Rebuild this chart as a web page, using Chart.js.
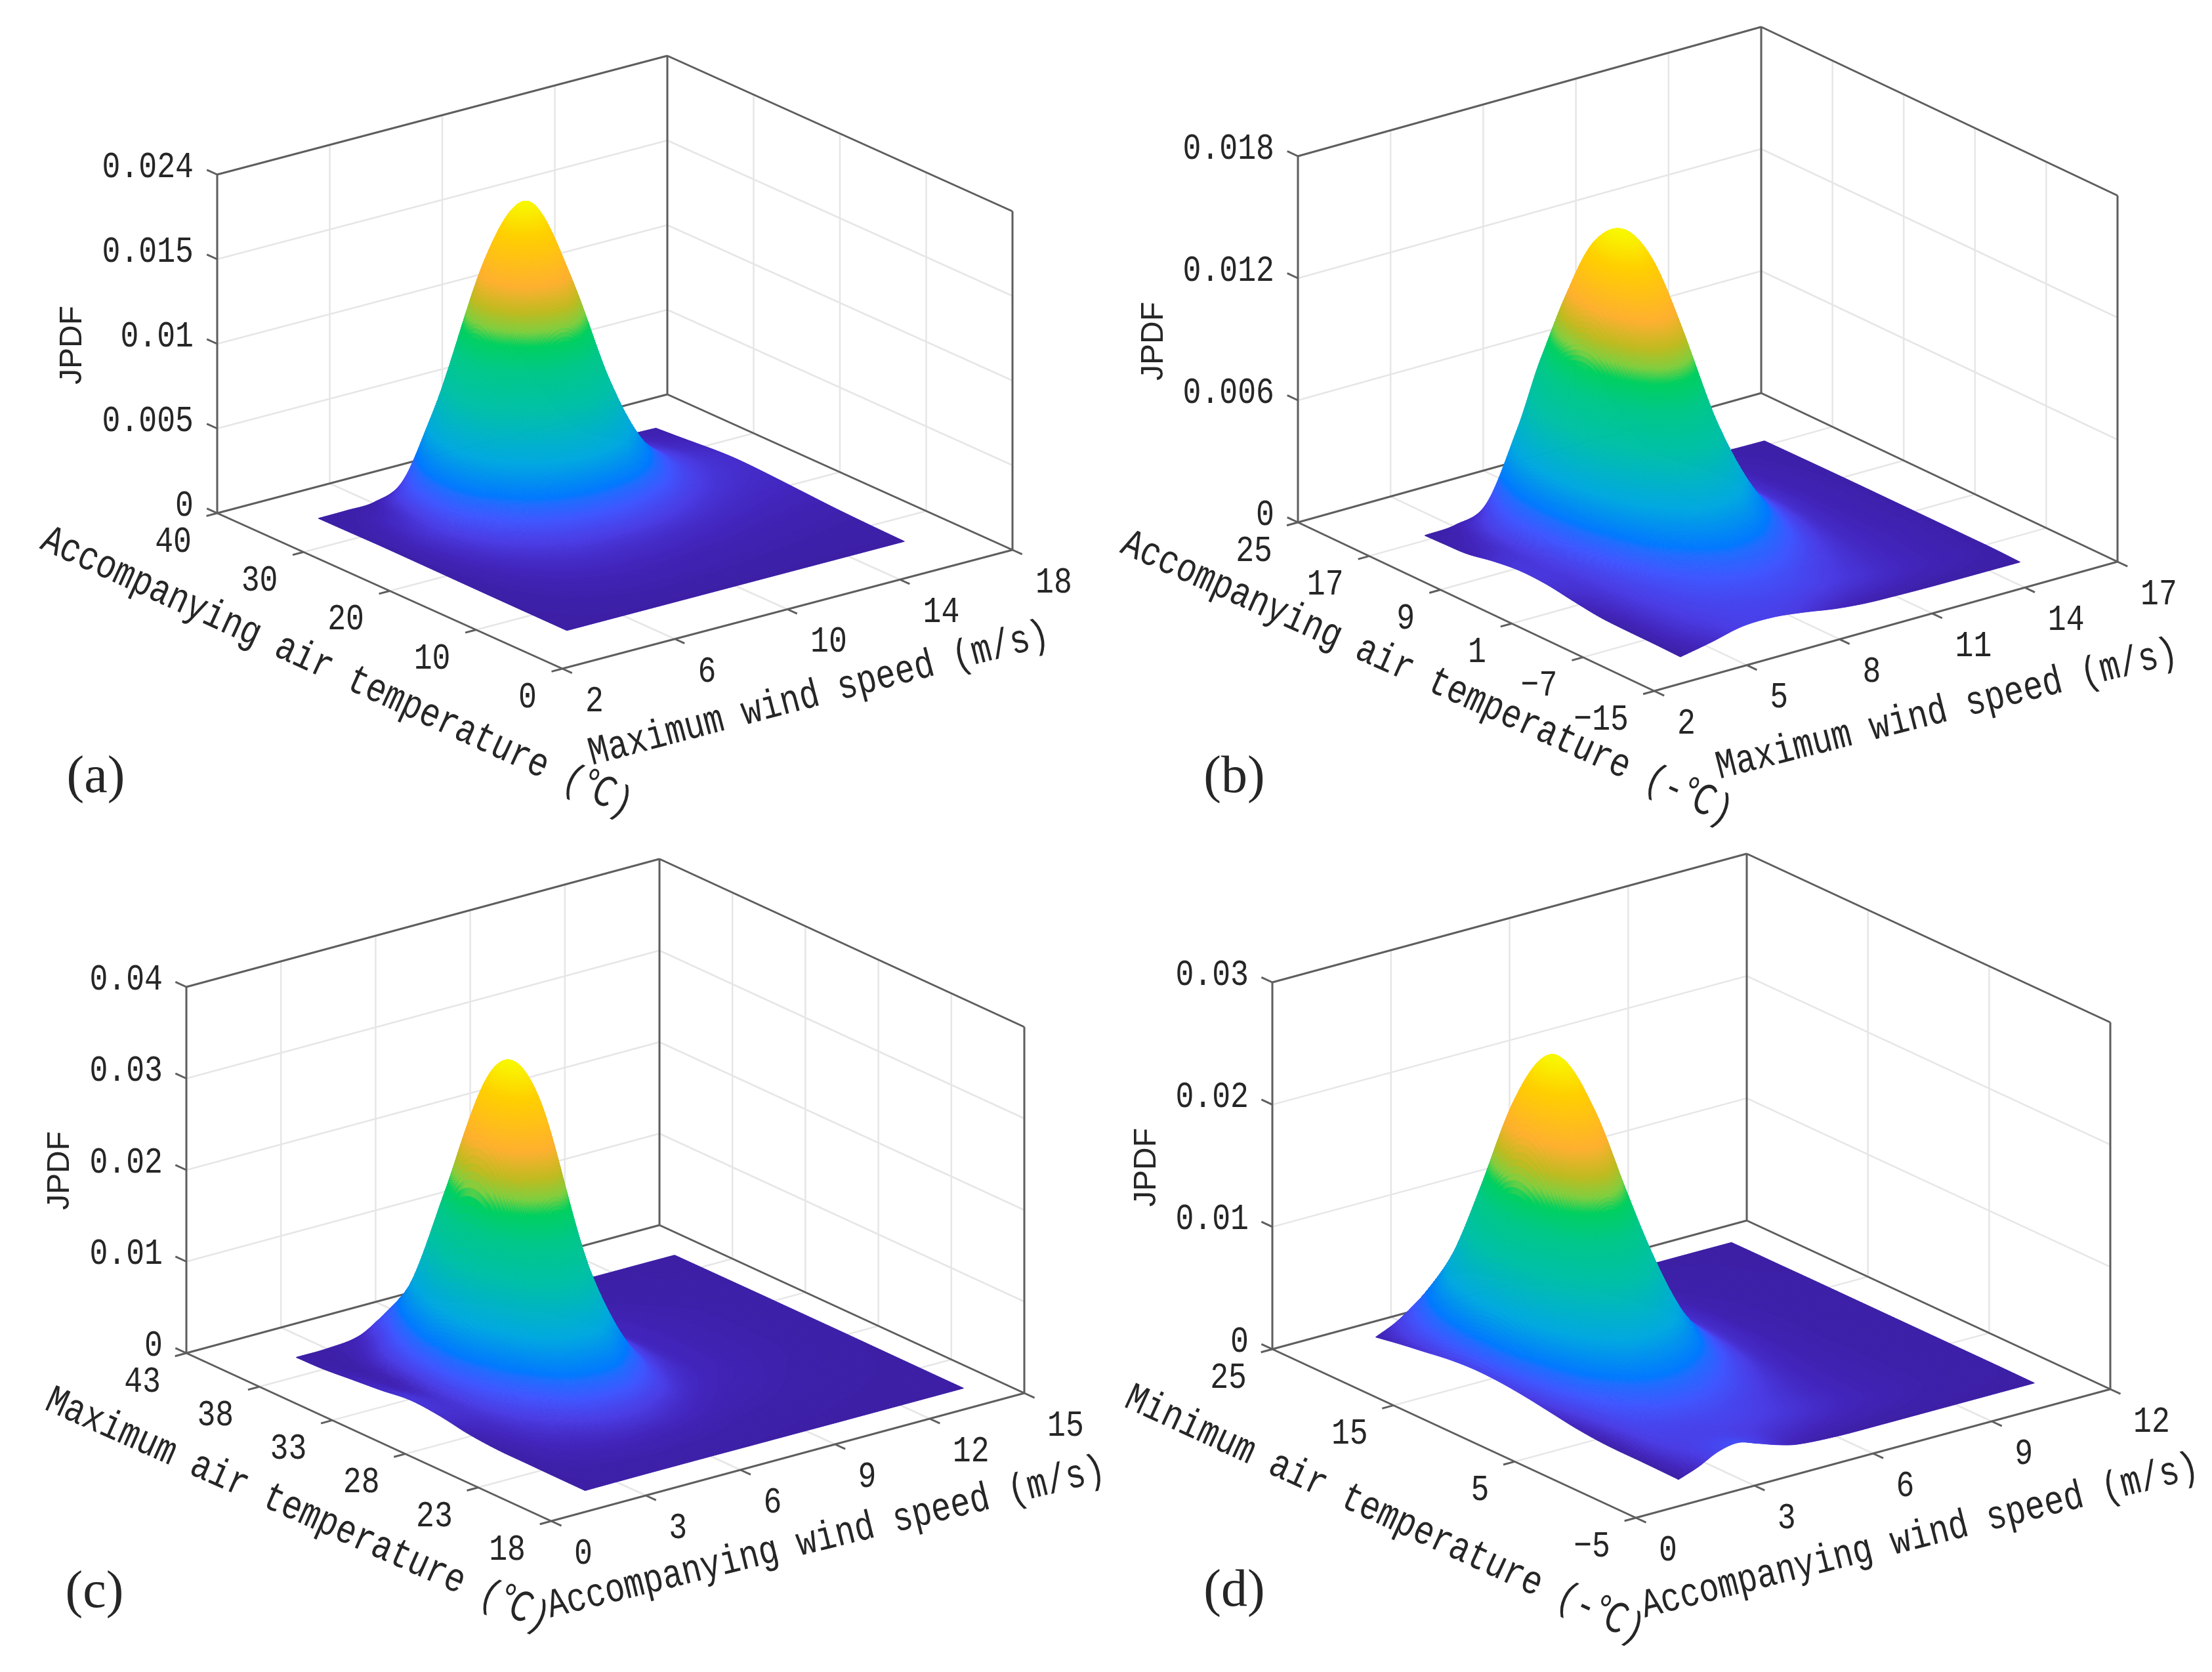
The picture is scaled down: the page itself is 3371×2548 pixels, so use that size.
<!DOCTYPE html>
<html><head><meta charset="utf-8">
<style>html,body{margin:0;padding:0;background:#fff;width:3371px;height:2548px;overflow:hidden}canvas{position:absolute;display:block}</style>
<script src="https://cdn.jsdelivr.net/npm/chart.js@4"></script>
</head><body>
<canvas id="pa"></canvas><canvas id="pb"></canvas><canvas id="pc"></canvas><canvas id="pd"></canvas>
<script>
// ---- Panel (a) data: JPDF in units of 1e-4, rows follow a_temp, columns follow a_wind
const a_wind=[4,5,6,7,8,9,10,11,12,13,14,15,16];
const a_temp=[6,10,14,18,21,24,26,28,30,32,34.8];
const a_jpdf=[
[0,0,0,0,0,0,0,0,0,0,0,0,0],
[.04,.32,.65,.91,1.08,1.08,1.03,.91,.82,.7,.6,.52,.46],
[.09,.81,1.6,2.3,2.75,2.78,2.67,2.35,2.08,1.75,1.5,1.3,1.14],
[.18,1.6,3.3,5.1,6.7,7.5,7.6,6.5,5.1,3.9,3.1,2.6,2.3],
[.28,2.45,5.5,9.7,15.8,21.4,22.7,18.7,12.5,7.5,5,3.85,3.2],
[.36,3.3,8.7,19.9,39.9,61.1,67.3,53.9,32.2,15.7,7.8,4.9,3.9],
[.4,3.75,11,29.9,64.8,103.2,114.6,91.3,52.7,23.8,10,5.35,4],
[.41,3.2,11,36,87.6,139,155,123,71.5,30.7,11.5,5.2,3.5],
[.3,2.5,9,36,95,153.6,172,136.5,78.1,32.5,11.1,4.3,2.65],
[.2,1.5,6,28,83,135,151,120,68.4,28.1,9.2,3.2,1.8],
[.1,.3,1,9,42,78,87.5,69.1,38.3,15.5,4.85,1.5,.75]];
const a_xTicks=[2,6,10,14,18], a_tTicks=[0,10,20,30,40], a_zTicks=[0,.005,.01,.015,.02];
const a_zLabels=["0","0.005","0.01","0.015","0.024"];
// ---- Panel (b)
const b_wind=[4,5,6,7,8,9,10,11,12,13,14,15];
const b_temp=[-11,-8,-5,-2,1,4,7,10,13,15.5,17.7];
const b_jpdf=[
[0,3,6.5,6.8,5,2.5,1,.5,.2,.1,.05,0],
[.3,4.3,7,8.1,8.3,7.1,5.1,3.6,2.3,1.5,.9,.4],
[.4,4.8,8.3,10.8,12.4,10.8,7.4,4.6,2.8,1.7,1,.43],
[.8,5.3,10,16.1,21.9,20,12.7,6.5,3.2,1.9,1.1,.45],
[2.5,5.7,13,27.3,42.7,40.1,24.1,10.4,4,2,1.1,.45],
[4.5,6.3,17.8,45.5,76.7,72.9,42.8,16.8,5.4,2.1,1.1,.45],
[5,7.1,23.4,66.4,115.8,110.6,64.3,24.2,6.9,2.3,1.1,.45],
[3.5,7.1,26.2,78.8,139.9,134,77.5,28.5,7.6,2.2,1,.4],
[1,6,24,74.8,134,128.5,74.1,26.9,7,1.9,.8,.3],
[.5,3.5,17,59.9,107.7,103.4,59.5,21.5,5.5,1.4,.6,.2],
[.2,1.2,7.5,40,77.4,74.4,42.7,15.3,3.8,.8,.3,.1]];
const b_xTicks=[2,5,8,11,14,17], b_tTicks=[-15,-7,1,9,17,25], b_zTicks=[0,.006,.012,.018];
const b_zLabels=["0","0.006","0.012","0.018"];
// ---- Panel (c)
const c_wind=[2,3,4,5,6,7,8,9,10,11,12,13,14];
const c_temp=[20,22,24,26,28,30,32,34,36,38,39.8];
const c_jpdf=[
[0,.2,.3,.3,.3,.2,.15,.1,0,0,0,0,0],
[.1,1.1,1.7,2,1.8,1.4,.9,.6,.5,.3,.2,.1,0],
[.3,3.3,5.4,7.5,7.2,5,2.9,1.9,1.3,.8,.5,.3,.1],
[.6,6.4,13.4,23.9,25.2,15.2,7,3.6,2.5,1.5,1,.5,.2],
[3.2,10.3,31.2,72.2,80.2,44.6,15.4,5.8,3.5,2.1,1.4,.7,.3],
[8.6,15,63,169,192,102,30,7.9,4,2.3,1.5,.8,.3],
[10.9,16,96,270,309,163,45,9.6,4.1,2.3,1.5,.8,.3],
[7,11,92,280.5,321.6,169,46,9.3,3.7,2.1,1.4,.7,.3],
[4,6,55,185,212.6,111.8,30.4,6.2,2.5,1.4,.9,.5,.2],
[1,2,20,77.8,89,46.8,12.7,2.6,1.1,.6,.4,.2,.1],
[.2,.6,5,23.9,27.4,14.4,3.9,.8,.3,.2,.1,.1,0]];
const c_xTicks=[0,3,6,9,12,15], c_tTicks=[18,23,28,33,38,43], c_zTicks=[0,.01,.02,.03,.04];
const c_zLabels=["0","0.01","0.02","0.03","0.04"];
// ---- Panel (d)
const d_wind=[2,2.5,3,3.5,4,4.5,5,6,7,8,9,10,11];
const d_temp=[-2,1,4,6.5,9,11,13,15,17,19,21,23];
const d_jpdf=[
[0,6,14,17,12,6.5,2.5,.3,0,0,0,0,0],
[.5,10,11.5,11.9,12,11.4,10,6.8,3.8,2.2,1.1,.5,.2],
[.8,12.9,17.2,20.5,21.4,19.8,16.5,9.4,4.6,2.4,1.2,.6,.2],
[3,19,31.8,44.3,48,43.4,34.5,15.8,5.8,2.5,1.2,.6,.2],
[7,32.7,64.8,98.4,108.2,96.9,75,30.1,8.5,2.8,1.2,.6,.2],
[10,48,102,159.1,175.9,157,120.6,46.3,11.6,3.1,1.2,.6,.2],
[12,61.4,134.2,211.9,234.7,209.2,160.1,60.2,14.2,3.3,1.2,.6,.2],
[12.5,64.4,143.1,227.1,251.9,224.5,171.5,63.9,14.7,3.2,1.1,.5,.2],
[11,55.4,123.3,195.8,217.2,193.5,147.9,55,12.6,2.7,.9,.5,.2],
[8,38.4,85.2,135.1,149.7,133.5,102,38.1,8.8,1.9,.7,.3,.1],
[5,21.6,47.3,74.7,82.8,73.8,56.5,21.2,5,1.1,.4,.2,.1],
[1.5,8.9,20,32,35.5,31.6,24.1,8.9,1.9,.3,.1,.1,0]];
const d_xTicks=[0,3,6,9,12], d_tTicks=[-5,5,15,25], d_zTicks=[0,.01,.02,.03];
const d_zLabels=["0","0.01","0.02","0.03"];

const JPDF_UNIT=1e-4;
const fmtTick=v=>v<0?"\u2212"+(-v):String(v);
// Layout of each panel in page pixels
const panels=[
 {id:'pa',box:[0,0,1690,1274],front:[857,1019],right:[1543,838],left:[331,782],zPx:516,
  wind:a_wind,temp:a_temp,jpdf:a_jpdf,xT:a_xTicks,tT:a_tTicks,zT:a_zTicks,zL:a_zLabels,
  xName:"Maximum wind speed (m/s)",tName:"Accompanying air temperature (\u2103)",
  xPos:[1248,1058,-14.7],tPos:[66,820,24.6],jp:[111,526],tag:"(a)",tagPos:[146,1186]},
 {id:'pb',box:[1690,0,1681,1274],front:[2521,1053],right:[3227,856],left:[1978,796],zPx:558,
  wind:b_wind,temp:b_temp,jpdf:b_jpdf,xT:b_xTicks,tT:b_tTicks,zT:b_zTicks,zL:b_zLabels,
  xName:"Maximum wind speed (m/s)",tName:"Accompanying air temperature (-\u2103)",
  xPos:[2967,1082,-14.2],tPos:[1712,826,24.2],jp:[1759,520],tag:"(b)",tagPos:[1881,1186]},
 {id:'pc',box:[0,1274,1690,1274],front:[840,2318],right:[1561,2123],left:[284,2062],zPx:558,
  wind:c_wind,temp:c_temp,jpdf:c_jpdf,xT:c_xTicks,tT:c_tTicks,zT:c_zTicks,zL:c_zLabels,
  xName:"Accompanying wind speed (m/s)",tName:"Maximum air temperature (\u2103)",
  xPos:[1259,2344,-13.9],tPos:[73,2132,24],jp:[92,1784],tag:"(c)",tagPos:[144,2428]},
 {id:'pd',box:[1690,1274,1681,1274],front:[2493,2313],right:[3216,2117],left:[1939,2056],zPx:559,
  wind:d_wind,temp:d_temp,jpdf:d_jpdf,xT:d_xTicks,tT:d_tTicks,zT:d_zTicks,zL:d_zLabels,
  xName:"Accompanying wind speed (m/s)",tName:"Minimum air temperature (-\u2103)",
  xPos:[2926,2342,-14.2],tPos:[1718,2128,24.7],jp:[1748,1779],tag:"(d)",tagPos:[1881,2426]}
];
const MONO='"Liberation Mono","Noto Sans CJK SC",monospace';
const TICK_FONT='56px '+MONO, LABEL_FONT='62px '+MONO, TICK_SQUEEZE=0.83, LABEL_SQUEEZE=0.81;
const TEXT_COLOR='#262626', BOX_COLOR='#5e5e5e', GRID_COLOR='#e6e6e6';
const CMAP=[[0,'#3c1fa5'],[.015,'#4225bd'],[.04,'#4a3ce4'],[.08,'#3f55ff'],[.12,'#1f6cff'],[.135,'#0078ff'],[.23,'#00a8e0'],[.38,'#00c0a8'],[.5,'#00c888'],[.578,'#00d060'],[.622,'#80cf40'],[.68,'#c0bb20'],[.76,'#ffb030'],[.91,'#ffd000'],[1,'#f8f800']];
const hex=h=>[1,3,5].map(i=>parseInt(h.substr(i,2),16));
const LUT=[];for(let i=0;i<=600;i++){const f=i/600;let k=0;while(k<CMAP.length-2&&f>CMAP[k+1][0])k++;
 const [f0,c0]=CMAP[k],[f1,c1]=CMAP[k+1];const t=Math.min(1,(f-f0)/(f1-f0));const A=hex(c0),B=hex(c1);
 LUT.push('rgb('+A.map((v,j)=>Math.round(v+(B[j]-v)*t)).join(',')+')');}

function spline(xs,ys,q){const n=xs.length,m=[];
 for(let i=0;i<n;i++){m[i]=i===0?(ys[1]-ys[0])/(xs[1]-xs[0]):i===n-1?(ys[n-1]-ys[n-2])/(xs[n-1]-xs[n-2]):(ys[i+1]-ys[i-1])/(xs[i+1]-xs[i-1]);}
 return q.map(v=>{let i=0;while(i<n-2&&v>xs[i+1])i++;const h=xs[i+1]-xs[i],t=(v-xs[i])/h,t2=t*t,t3=t2*t;
  return (2*t3-3*t2+1)*ys[i]+(t3-2*t2+t)*h*m[i]+(-2*t3+3*t2)*ys[i+1]+(t3-t2)*h*m[i+1];});}
const steps=(a,b,n)=>Array.from({length:n+1},(_,i)=>a+(b-a)*i/n);

function makeProjector(p){
 const xr=[p.xT[0],p.xT[p.xT.length-1]],tr=[p.tT[0],p.tT[p.tT.length-1]],zmax=p.zT[p.zT.length-1];
 const ux=[p.right[0]-p.front[0],p.right[1]-p.front[1]],ut=[p.left[0]-p.front[0],p.left[1]-p.front[1]];
 return (x,t,z)=>{const a=(x-xr[0])/(xr[1]-xr[0]),b=(t-tr[0])/(tr[1]-tr[0]);
  return {x:p.front[0]+a*ux[0]+b*ut[0],y:p.front[1]+a*ux[1]+b*ut[1]-z/zmax*p.zPx};};
}
const surfacePlugin={id:'surface',afterDatasetsDraw(chart){
 const p=chart.options.plugins.surface.panel,P=makeProjector(p),ctx=chart.ctx,sx=chart.scales.x,sy=chart.scales.y;
 const N=300,qx=steps(p.wind[0],p.wind[p.wind.length-1],N),qt=steps(p.temp[0],p.temp[p.temp.length-1],N);
 const rows=p.jpdf.map(r=>spline(p.wind,r,qx));
 const cols=qx.map((_,i)=>spline(p.temp,rows.map(r=>r[i]),qt).map(v=>Math.max(0,v)));
 let top=0;cols.forEach(c=>c.forEach(v=>{if(v>top)top=v;}));
 const px=(i,j)=>{const q=P(qx[i],qt[j],cols[i][j]*JPDF_UNIT);return [sx.getPixelForValue(q.x),sy.getPixelForValue(q.y)];};
 ctx.save();ctx.lineWidth=1;ctx.lineJoin='round';
 for(let j=N-1;j>=0;j--)for(let i=N-1;i>=0;i--){
  const a=px(i,j),b=px(i+1,j),c=px(i+1,j+1),d=px(i,j+1);
  const f=(cols[i][j]+cols[i+1][j]+cols[i+1][j+1]+cols[i][j+1])/4/top;
  const col=LUT[Math.min(600,Math.round(f*600))];
  ctx.fillStyle=col;ctx.strokeStyle=col;ctx.beginPath();ctx.moveTo(a[0],a[1]);ctx.lineTo(b[0],b[1]);ctx.lineTo(c[0],c[1]);ctx.lineTo(d[0],d[1]);ctx.closePath();ctx.fill();ctx.stroke();
 }
 ctx.restore();
}};
const textPlugin={id:'texts',afterDraw(chart){
 const p=chart.options.plugins.texts.panel,P=makeProjector(p),ctx=chart.ctx,sx=chart.scales.x,sy=chart.scales.y;
 const X=v=>sx.getPixelForValue(v),Y=v=>sy.getPixelForValue(v);
 const xr=[p.xT[0],p.xT[p.xT.length-1]],tr=[p.tT[0],p.tT[p.tT.length-1]];
 const put=(s,x,y,font,al,rot,sq)=>{ctx.save();ctx.translate(X(x),Y(y));ctx.rotate((rot||0)*Math.PI/180);if(sq)ctx.scale(sq,1);ctx.font=font;ctx.fillStyle=TEXT_COLOR;ctx.textAlign=al;ctx.textBaseline='middle';ctx.fillText(s,0,0);ctx.restore();};
 p.zT.forEach((z,i)=>{const q=P(xr[0],tr[1],z);put(p.zL[i],q.x-36,q.y-11,TICK_FONT,'right',0,TICK_SQUEEZE);});
 p.tT.forEach(t=>{const q=P(xr[0],t,0);put(fmtTick(t),q.x-39,q.y+44,TICK_FONT,'right',0,TICK_SQUEEZE);});
 p.xT.forEach(x=>{const q=P(x,tr[0],0);put(fmtTick(x),q.x+35,q.y+50,TICK_FONT,'left',0,TICK_SQUEEZE);});
 put(p.xName,p.xPos[0],p.xPos[1],LABEL_FONT,'center',p.xPos[2],LABEL_SQUEEZE);
 put(p.tName,p.tPos[0],p.tPos[1],LABEL_FONT,'left',p.tPos[2],LABEL_SQUEEZE);
 put("JPDF",p.jp[0],p.jp[1],'48px "Liberation Sans"','center',-90);
 put(p.tag,p.tagPos[0],p.tagPos[1],'80px "Liberation Serif"','center',0);
}};

panels.forEach(p=>{
 const P=makeProjector(p),xr=[p.xT[0],p.xT[p.xT.length-1]],tr=[p.tT[0],p.tT[p.tT.length-1]],zt=p.zT[p.zT.length-1];
 const cv=document.getElementById(p.id);cv.width=p.box[2];cv.height=p.box[3];
 cv.style.left=p.box[0]+'px';cv.style.top=p.box[1]+'px';cv.style.width=p.box[2]+'px';cv.style.height=p.box[3]+'px';
 const seg=(arr,a,b)=>{arr.push(a,b,{x:null,y:null});};
 const grid=[],box=[],tick=[];
 p.xT.forEach(x=>{seg(grid,P(x,tr[0],0),P(x,tr[1],0));seg(grid,P(x,tr[1],0),P(x,tr[1],zt));
   seg(tick,P(x,tr[0],0),P(x,tr[0]-(tr[1]-tr[0])*.028,0));});
 p.tT.forEach(t=>{seg(grid,P(xr[0],t,0),P(xr[1],t,0));seg(grid,P(xr[1],t,0),P(xr[1],t,zt));
   seg(tick,P(xr[0],t,0),P(xr[0]-(xr[1]-xr[0])*.024,t,0));});
 p.zT.forEach(z=>{seg(grid,P(xr[0],tr[1],z),P(xr[1],tr[1],z));seg(grid,P(xr[1],tr[1],z),P(xr[1],tr[0],z));
   seg(tick,P(xr[0],tr[1],z),P(xr[0],tr[1]+(tr[1]-tr[0])*.03,z));});
 seg(box,P(xr[0],tr[0],0),P(xr[1],tr[0],0));seg(box,P(xr[0],tr[0],0),P(xr[0],tr[1],0));
 seg(box,P(xr[0],tr[1],0),P(xr[1],tr[1],0));seg(box,P(xr[1],tr[1],0),P(xr[1],tr[0],0));
 seg(box,P(xr[0],tr[1],0),P(xr[0],tr[1],zt));seg(box,P(xr[1],tr[1],0),P(xr[1],tr[1],zt));seg(box,P(xr[1],tr[0],0),P(xr[1],tr[0],zt));
 seg(box,P(xr[0],tr[1],zt),P(xr[1],tr[1],zt));seg(box,P(xr[1],tr[1],zt),P(xr[1],tr[0],zt));
 const nodes=[];p.temp.forEach((t,j)=>p.wind.forEach((x,i)=>{nodes.push(P(x,t,p.jpdf[j][i]*JPDF_UNIT));}));
 const line=(label,data,color,w,order)=>({label,data,order,showLine:true,borderColor:color,borderWidth:w,pointRadius:0,spanGaps:false,fill:false,tension:0});
 new Chart(cv,{type:'scatter',
  data:{datasets:[line('Grid',grid,GRID_COLOR,2.5,3),line('Box',box,BOX_COLOR,3,2),line('Ticks',tick,BOX_COLOR,3,1),
    {label:'JPDF surface',data:nodes,order:0,pointRadius:0,showLine:false}]},
  options:{responsive:false,animation:false,devicePixelRatio:1,events:[],layout:{padding:0},
   scales:{x:{type:'linear',display:false,min:p.box[0],max:p.box[0]+p.box[2]},
           y:{type:'linear',display:false,reverse:true,min:p.box[1],max:p.box[1]+p.box[3]}},
   plugins:{legend:{display:false},tooltip:{enabled:false},title:{display:false},surface:{panel:p},texts:{panel:p}}},
  plugins:[surfacePlugin,textPlugin]});
});
</script></body></html>
